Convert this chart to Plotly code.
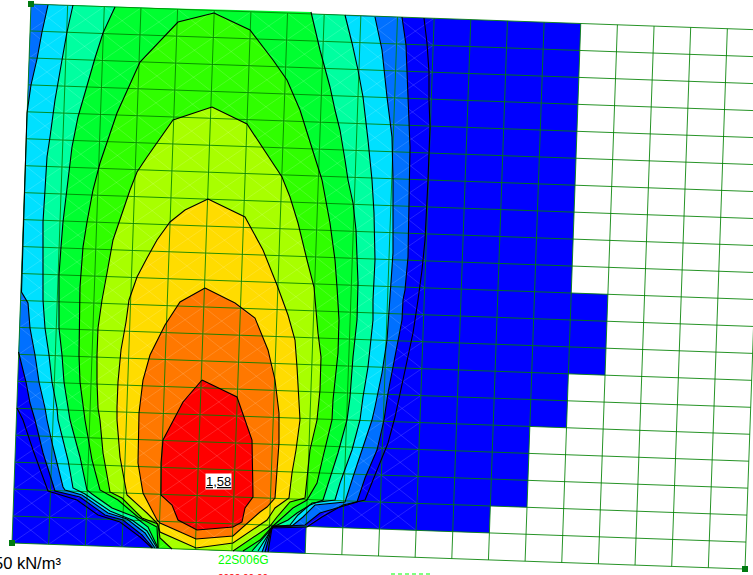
import numpy as np
import plotly.graph_objects as go

# Plate corners and mesh size
plate_tl = (31, 4)
plate_bl = (12, 543)
plate_br = (745, 569)
mesh_cols = 20
mesh_rows = 20

# Loaded (blue) part of the plate, as mesh node indices
blue_i = [0, 15, 15, 16, 16, 15, 15, 14, 14, 13, 13, 8, 8, 0]
blue_j = [0, 0, 10, 10, 13, 13, 15, 15, 18, 18, 19, 19, 20, 20]

# Contour lines: each has a left branch (top to bottom) and a right branch (bottom to top)
c1_left = [(17,408),(23,420),(33,450),(47,488),(48,491),(77,500),(98,515),(120,522),(140,537),(152,548)]
c1_right = [(268,552),(272,528),(307,527),(322,517),(343,505),(365,500),(373,480),(388,443),(395,417),(403,380),(413,333),(418,300),(422,270),(425,240),(427,207),(428,180),(429,153),(430,127),(429,100),(429,72),(427,43),(424,18)]
c2_left = [(18.5,352),(26,382),(30,403),(35,420),(43,453),(52,480),(55,491),(80,497),(105,515),(123,520),(142,535),(153,548)]
c2_right = [(265,552),(272,527),(305,525),(320,513),(357,502),(365,478),(377,450),(384,420),(388,393),(393,367),(402,320),(403,300),(405,290),(408,257),(409,213),(410,180),(410,147),(408,97),(406,45),(402,17)]
c3_left = [(48,5),(42,32),(37,59),(31,85),(27,113),(24,200),(21.5,292),(28,303),(30,328),(35,355),(39,382),(45,408),(47,420),(53,447),(63,487),(65,490),(82,495),(108,513),(127,519),(145,533),(155,548)]
c3_right = [(262,552),(272,526),(292,526),(303,517),(315,505),(345,502),(353,477),(362,450),(372,420),(375,407),(382,373),(387,340),(389,310),(391,287),(393,253),(393,213),(393,180),(392,137),(387,97),(382,50),(375,17)]
c4_left = [(73,5),(67,32),(62,60),(55,100),(50,137),(47,157),(45,190),(43,222),(43,247),(43,275),(43,300),(45,328),(49,355),(52,382),(57,408),(58,420),(68,460),(73,488),(85,494),(110,511),(132,520),(147,531),(157,548)]
c4_right = [(258,551),(273,527),(290,525),(298,515),(312,503),(335,500),(340,483),(352,450),(360,420),(363,397),(368,367),(373,320),(373,300),(374,283),(375,260),(374,213),(372,180),(368,140),(363,97),(358,70),(352,43),(345,15)]
c5_left = [(115,7),(103,33),(95,58),(87,87),(78,117),(72,147),(68,180),(63,222),(61,247),(59,275),(59,300),(59,328),(62,355),(64,382),(70,420),(80,457),(87,490),(92,494),(112,508),(135,517),(148,527),(158,548)]
c5_right = [(252,551),(273,527),(288,520),(297,513),(310,505),(323,500),(330,478),(338,453),(347,420),(350,397),(353,357),(357,320),(358,283),(357,257),(356,230),(353,203),(348,180),(345,160),(340,130),(335,110),(330,87),(320,50),(311,12)]
c6_left = [(214,13),(178,22),(140,62),(117,113),(100,163),(93,190),(87,222),(83,247),(80,287),(79,328),(79,355),(80,382),(85,420),(92,460),(100,490),(118,500),(138,517),(157,527),(158,548)]
c6_right = [(243,551),(260,540),(273,526),(283,517),(293,508),(307,500),(317,483),(323,457),(332,420),(333,400),(338,353),(339,320),(338,300),(337,287),(335,260),(330,223),(322,180),(300,110),(287,80),(273,60),(250,30),(214,13)]
c7_left = [(212,107),(173,120),(147,157),(137,172),(130,190),(119,222),(113,240),(107,273),(102,300),(98,328),(97,355),(97,382),(98,408),(100,420),(103,453),(110,492),(122,498),(142,518),(158,524),(160,538),(172,549)]
c7_right = [(233,551),(270,526),(277,517),(290,502),(305,498),(310,450),(317,420),(320,390),(321,357),(318,333),(316,310),(314,287),(307,260),(298,223),(290,197),(282,177),(247,124),(212,107)]
c8_loop = [(208,199),(185,210),(170,222),(157,240),(147,258),(137,277),(129,300),(126,322),(121,350),(118,382),(117,407),(117,420),(120,457),(127,495),(147,513),(157,523),(160,532),(196,548),(233,543),(267,520),(275,508),(289,498),(292,473),(296,450),(300,420),(299,397),(297,367),(295,340),(288,315),(277,285),(263,250),(245,217),(208,199)]
c9_loop = [(205,288),(180,302),(165,325),(150,355),(143,380),(139,413),(138,463),(143,493),(157,520),(160,523),(196,539),(233,536),(260,512),(267,507),(275,498),(277,472),(279,443),(279,413),(275,380),(268,350),(255,318),(235,303),(205,288)]
c10_loop = [(202,380),(237,397),(252,440),(253,497),(245,508),(242,522),(233,527),(197,530),(178,520),(172,505),(161,495),(161,463),(163,440),(183,402),(202,380)]

# Band colours, from the outermost band inwards
color_blue = "#0000ff"
color_band2 = "#0070ff"
color_band3 = "#00e0ff"
color_band4 = "#00ffa0"
color_band5 = "#00ff30"
color_band6 = "#30ff00"
color_band7 = "#a8ff00"
color_band8 = "#ffdc00"
color_band9 = "#ff7800"
color_band10 = "#ff0000"

# Texts
peak_label = "1,58"
unit_label = "50 kN/m³"
section_label = "22S006G"
date_label = "2022 00 00"
markers_i = [0, 0, 20]
markers_j = [0, 20, 20]


tl, bl, br = map(np.array, (plate_tl, plate_bl, plate_br))
def node(i, j):
    return tl + (br - bl) * (i / mesh_cols) + (bl - tl) * (j / mesh_rows)

fig = go.Figure()

def fill(points, color):
    fig.add_trace(go.Scatter(x=[p[0] for p in points], y=[p[1] for p in points], mode="lines",
                             fill="toself", fillcolor=color, line=dict(width=0, color=color),
                             hoverinfo="skip", showlegend=False))

blue_nodes = [node(i, j) for i, j in zip(blue_i, blue_j)]
fill([tuple(p) for p in blue_nodes] + [tuple(blue_nodes[0])], color_blue)
fill([plate_tl] + c2_left + c2_right, color_band2)
fill(c3_left + c3_right, color_band3)
fill(c4_left + c4_right, color_band4)
fill(c5_left + c5_right, color_band5)
fill(c6_left + c6_right, color_band6)
fill(c7_left + c7_right, color_band7)
fill(c8_loop, color_band8)
fill(c9_loop, color_band9)
fill(c10_loop, color_band10)

# Faint triangulation inside the load zone
dx, dy = [], []
for i in range(0, 11):
    for j in range(mesh_rows):
        a, b, c, d = node(i, j), node(i + 1, j), node(i + 1, j + 1), node(i, j + 1)
        dx += [a[0], c[0], None, b[0], d[0], None]
        dy += [a[1], c[1], None, b[1], d[1], None]
fig.add_trace(go.Scatter(x=dx, y=dy, mode="lines", line=dict(color="rgba(255,255,255,0.14)", width=1),
                         hoverinfo="skip", showlegend=False))

# Mesh
mx, my = [], []
for i in range(mesh_cols + 1):
    a, b = node(i, 0), node(i, mesh_rows)
    mx += [a[0], b[0], None]; my += [a[1], b[1], None]
for j in range(mesh_rows + 1):
    a, b = node(0, j), node(mesh_cols, j)
    mx += [a[0], b[0], None]; my += [a[1], b[1], None]
fig.add_trace(go.Scatter(x=mx, y=my, mode="lines", line=dict(color="rgba(0,128,0,0.85)", width=1),
                         hoverinfo="skip", showlegend=False))

# Contours
lx, ly = [], []
for part in (c1_left, c1_right, c2_left, c2_right, c3_left, c3_right, c4_left, c4_right, c5_left, c5_right,
             c6_left, c6_right, c7_left, c7_right, c8_loop, c9_loop, c10_loop):
    lx += [p[0] for p in part] + [None]
    ly += [p[1] for p in part] + [None]
fig.add_trace(go.Scatter(x=lx, y=ly, mode="lines", line=dict(color="#000000", width=1.1),
                         hoverinfo="skip", showlegend=False))

# Corner markers
corners = [node(i, j) for i, j in zip(markers_i, markers_j)]
fig.add_trace(go.Scatter(x=[p[0] for p in corners], y=[p[1] for p in corners], mode="markers",
                         marker=dict(symbol="square", size=6, color="#007a10"),
                         hoverinfo="skip", showlegend=False))

# Green dashes at the page foot
fig.add_trace(go.Scatter(x=[391, 432], y=[574, 574], mode="lines",
                         line=dict(color="#00ff00", width=1, dash="4px,3px"),
                         hoverinfo="skip", showlegend=False))

fig.add_annotation(x=218, y=481, text="<u>" + peak_label + "</u>", showarrow=False, bgcolor="#ffffff",
                   font=dict(family="Liberation Sans", size=13, color="#000000"), borderpad=0)
fig.add_annotation(x=63, y=563, text=unit_label, showarrow=False, xanchor="right",
                   font=dict(family="Liberation Sans", size=16.5, color="#000000"))
fig.add_annotation(x=243, y=560, text=section_label, showarrow=False,
                   font=dict(family="Liberation Sans", size=12, color="#00ff00"))
fig.add_annotation(x=243, y=571, yanchor="top", text=date_label, showarrow=False,
                   font=dict(family="Liberation Sans", size=10, color="#ff0000"))

fig.update_layout(width=753, height=575, margin=dict(l=0, r=0, t=0, b=0),
                  paper_bgcolor="#ffffff", plot_bgcolor="#ffffff", showlegend=False,
                  xaxis=dict(range=[0, 753], visible=False, fixedrange=True),
                  yaxis=dict(range=[575, 0], visible=False, fixedrange=True))
fig.write_html("out.html", config=dict(displayModeBar=False),
               post_script="document.body.style.margin='0';document.body.style.overflow='hidden';")
